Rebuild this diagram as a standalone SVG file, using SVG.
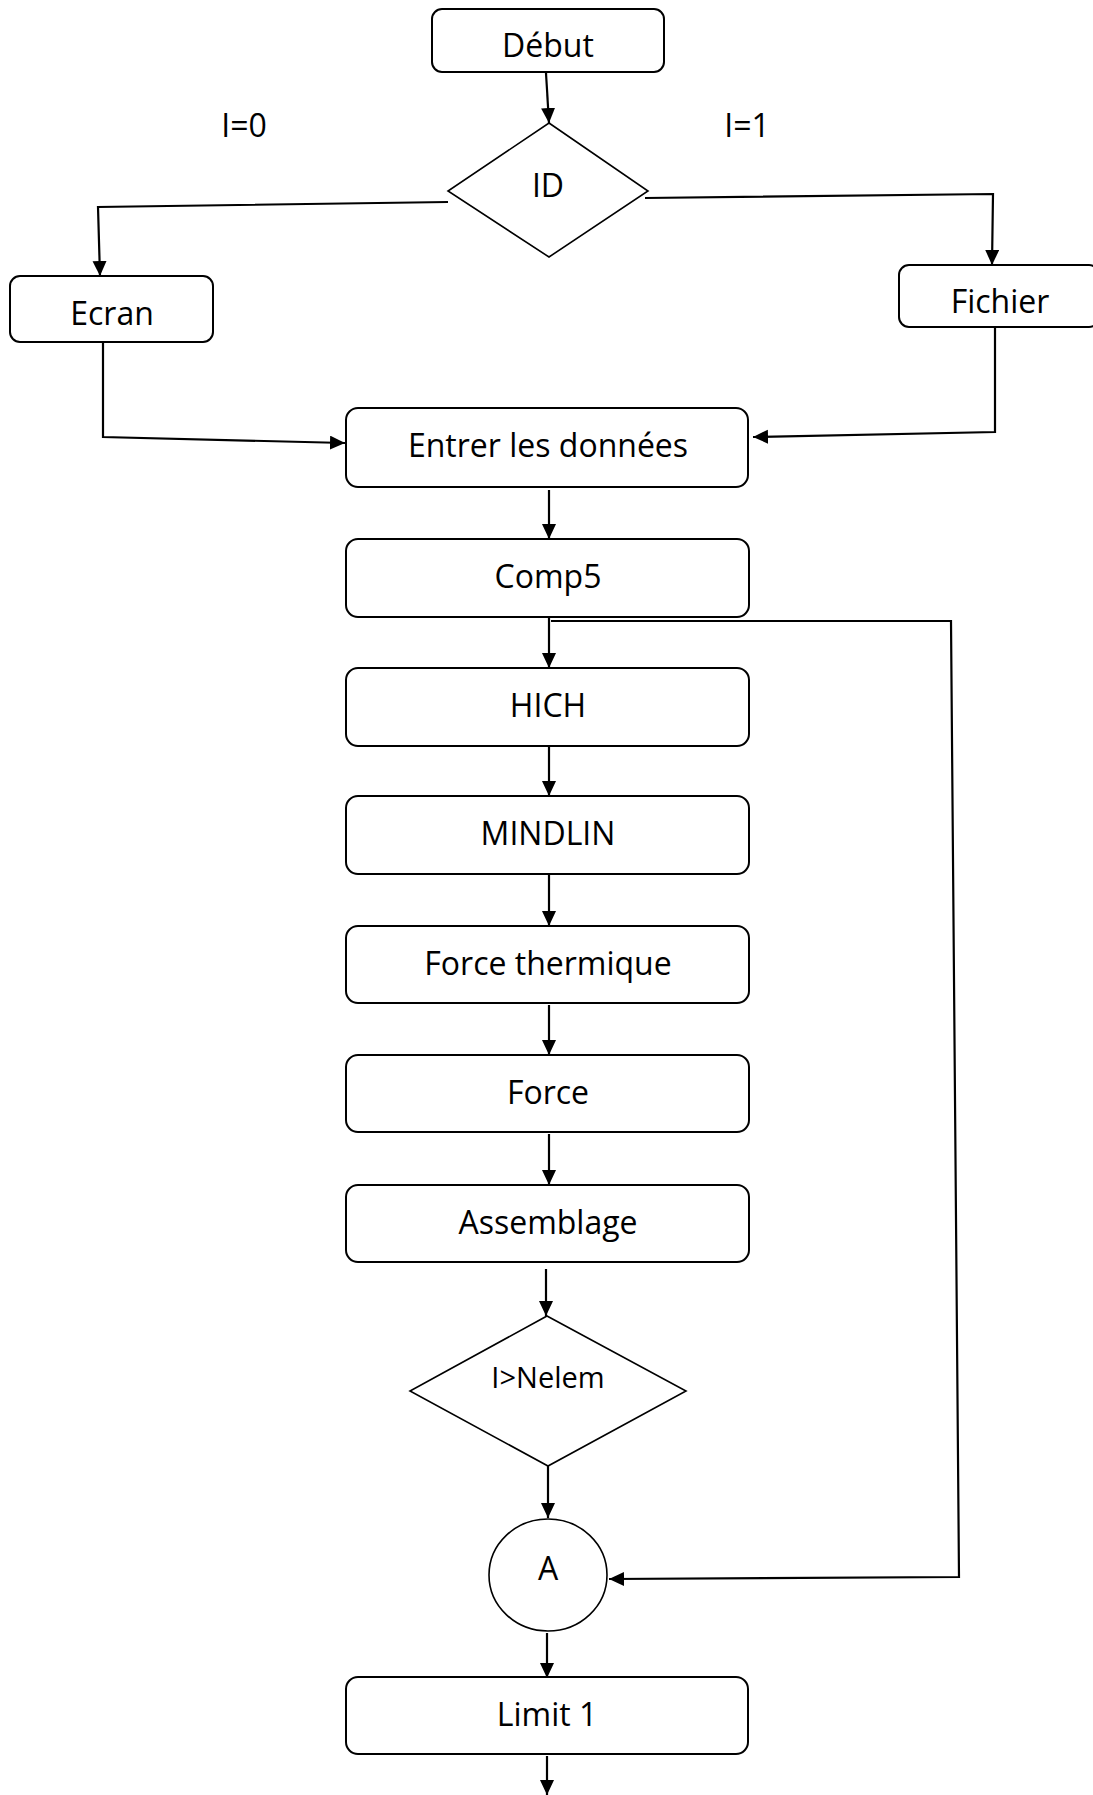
<svg xmlns="http://www.w3.org/2000/svg" width="1093" height="1795" viewBox="0 0 1093 1795">
<style>
.box{fill:#fff;stroke:#000;stroke-width:2}
.shape{fill:#fff;stroke:#000;stroke-width:1.6}
.lbl{font-family:"Open Sans","Noto Sans","Liberation Sans",sans-serif;font-size:32px;fill:#000;text-anchor:middle}
.small{font-size:29px}
.conn{fill:none;stroke:#000;stroke-width:2.2}
</style>
<defs>
<marker id="arr" markerUnits="userSpaceOnUse" markerWidth="17" markerHeight="15" refX="15" refY="7" orient="auto">
<path d="M0,0 L15,7 L0,14 z" fill="#000"/>
</marker>
</defs>
<rect width="1093" height="1795" fill="#fff"/>
<g id="connectors">
<path class="conn" d="M546,73 L549,123" marker-end="url(#arr)"/>
<path class="conn" d="M448,202 L98,207 L100,276" marker-end="url(#arr)"/>
<path class="conn" d="M645,198 L993,194 L992,265" marker-end="url(#arr)"/>
<path class="conn" d="M103,342 L103,437 L345,443" marker-end="url(#arr)"/>
<path class="conn" d="M995,327 L995,432 L753,437" marker-end="url(#arr)"/>
<path class="conn" d="M549,490 L549,539" marker-end="url(#arr)"/>
<path class="conn" d="M549,617 L549,668" marker-end="url(#arr)"/>
<path class="conn" d="M551,621 L951,621 L959,1577 L609,1579" marker-end="url(#arr)"/>
<path class="conn" d="M549,746 L549,796" marker-end="url(#arr)"/>
<path class="conn" d="M549,874 L549,926" marker-end="url(#arr)"/>
<path class="conn" d="M549,1005 L549,1055" marker-end="url(#arr)"/>
<path class="conn" d="M549,1134 L549,1185" marker-end="url(#arr)"/>
<path class="conn" d="M546,1269 L546,1316" marker-end="url(#arr)"/>
<path class="conn" d="M548,1466 L548,1518" marker-end="url(#arr)"/>
<path class="conn" d="M547,1633 L547,1678" marker-end="url(#arr)"/>
<path class="conn" d="M547,1756 L547,1795" marker-end="url(#arr)"/>
</g>
<g id="labels">
<text class="lbl" x="244" y="137">I=0</text>
<text class="lbl" x="747" y="137">I=1</text>
</g>
<g id="debut"><rect class="box" x="432" y="9" width="232" height="63" rx="10"/><text class="lbl" x="548" y="57">Début</text></g>
<g id="id"><polygon class="shape" points="549,123 648,191 549,257 448,191"/><text class="lbl" x="548" y="197">ID</text></g>
<g id="ecran"><rect class="box" x="10" y="276" width="203" height="66" rx="10"/><text class="lbl" x="112" y="325">Ecran</text></g>
<g id="fichier"><rect class="box" x="899" y="265" width="200" height="62" rx="10"/><text class="lbl" x="1000" y="313">Fichier</text></g>
<g id="entrer"><rect class="box" x="346" y="408" width="402" height="79" rx="12"/><text class="lbl" x="548" y="457">Entrer les données</text></g>
<g id="comp5"><rect class="box" x="346" y="539" width="403" height="78" rx="12"/><text class="lbl" x="548" y="588">Comp5</text></g>
<g id="hich"><rect class="box" x="346" y="668" width="403" height="78" rx="12"/><text class="lbl" x="548" y="717">HICH</text></g>
<g id="mindlin"><rect class="box" x="346" y="796" width="403" height="78" rx="12"/><text class="lbl" x="548" y="845">MINDLIN</text></g>
<g id="force-thermique"><rect class="box" x="346" y="926" width="403" height="77" rx="12"/><text class="lbl" x="548" y="975">Force thermique</text></g>
<g id="force"><rect class="box" x="346" y="1055" width="403" height="77" rx="12"/><text class="lbl" x="548" y="1104">Force</text></g>
<g id="assemblage"><rect class="box" x="346" y="1185" width="403" height="77" rx="12"/><text class="lbl" x="548" y="1234">Assemblage</text></g>
<g id="nelem"><polygon class="shape" points="547,1316 686,1391 548,1466 410,1391"/><text class="lbl small" x="548" y="1388">I&gt;Nelem</text></g>
<g id="a"><ellipse class="shape" cx="548" cy="1575" rx="59" ry="56"/><text class="lbl" x="548" y="1580">A</text></g>
<g id="limit1"><rect class="box" x="346" y="1677" width="402" height="77" rx="12"/><text class="lbl" x="547" y="1726">Limit 1</text></g>
</svg>
